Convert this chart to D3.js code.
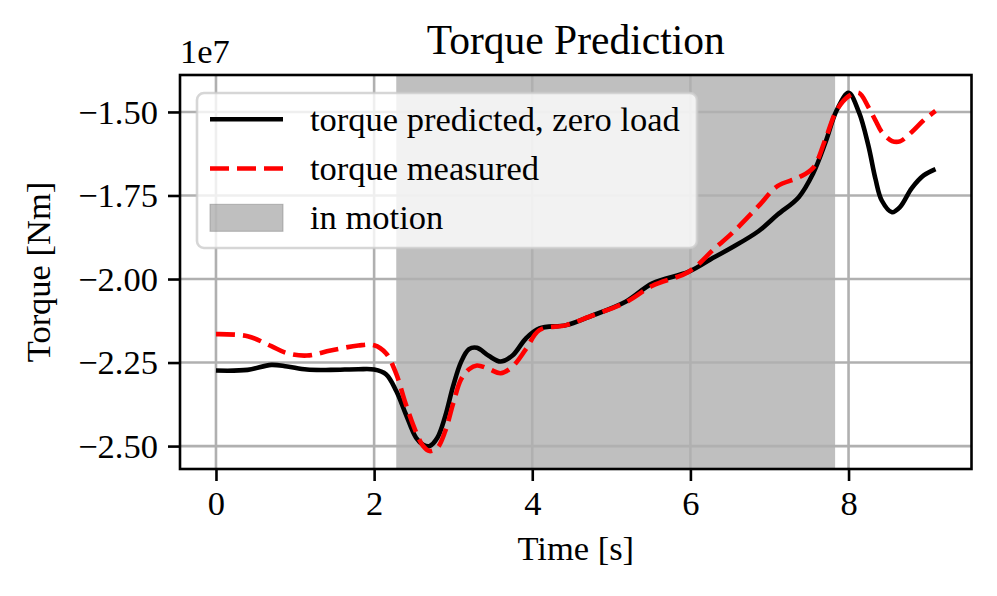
<!DOCTYPE html>
<html>
<head>
<meta charset="utf-8">
<script src="https://cdn.jsdelivr.net/npm/d3@7"></script>
<style>
  html, body { margin: 0; padding: 0; background: #fff; }
  svg { display: block; }
  text { font-family: "Liberation Serif", "Times New Roman", "DejaVu Serif", serif; fill: #000; }
</style>
</head>
<body>
<script>
// ---- data (torque values in units of 1e7 Nm) ----
const time = [0, 0.4, 0.7, 0.9, 1.15, 1.45, 1.8, 2.0, 2.15, 2.28, 2.4, 2.53, 2.62, 2.7, 2.8, 2.9, 3.0, 3.1, 3.2, 3.3, 3.45, 3.6, 3.75, 3.92, 4.09, 4.43, 4.72, 5.18, 5.52, 5.98, 6.3, 6.53, 6.86, 7.1, 7.37, 7.55, 7.71, 7.85, 8.0, 8.13, 8.25, 8.34, 8.42, 8.55, 8.65, 8.8, 8.95, 9.1];
const torquePredicted = [-2.274, -2.272, -2.257, -2.262, -2.271, -2.272, -2.270, -2.271, -2.285, -2.335, -2.404, -2.475, -2.496, -2.500, -2.475, -2.410, -2.320, -2.248, -2.210, -2.206, -2.230, -2.247, -2.229, -2.178, -2.148, -2.138, -2.113, -2.068, -2.013, -1.978, -1.935, -1.905, -1.857, -1.808, -1.755, -1.685, -1.590, -1.495, -1.443, -1.500, -1.600, -1.700, -1.765, -1.800, -1.785, -1.728, -1.690, -1.671];
const torqueMeasured = [-2.165, -2.171, -2.201, -2.222, -2.229, -2.214, -2.199, -2.198, -2.222, -2.284, -2.374, -2.458, -2.500, -2.515, -2.505, -2.455, -2.372, -2.300, -2.270, -2.259, -2.269, -2.282, -2.262, -2.210, -2.153, -2.138, -2.113, -2.070, -2.020, -1.978, -1.910, -1.862, -1.782, -1.722, -1.696, -1.668, -1.580, -1.495, -1.453, -1.443, -1.485, -1.525, -1.560, -1.587, -1.588, -1.560, -1.525, -1.497];
const motionSpan = [2.28, 7.83];
const xTicks = [0, 2, 4, 6, 8];
const yTicks = [-2.5, -2.25, -2.0, -1.75, -1.5];
const yTickLabels = ["\u22122.50", "\u22122.25", "\u22122.00", "\u22121.75", "\u22121.50"];
const legendLabels = ["torque predicted, zero load", "torque measured", "in motion"];

// ---- layout ----
const W = 997, H = 596;
const plot = { left: 180, right: 971.5, top: 75, bottom: 469 };
const FS = 34.5;

const svg = d3.select("body").append("svg").attr("width", W).attr("height", H);

const tMin = d3.min(time), tMax = d3.max(time);
const allV = torquePredicted.concat(torqueMeasured);
const vMin = d3.min(allV), vMax = d3.max(allV);
const xPad = (tMax - tMin) * 0.05, yPad = (vMax - vMin) * 0.05;

const x = d3.scaleLinear().domain([tMin - xPad, tMax + xPad]).range([plot.left, plot.right]);
const y = d3.scaleLinear().domain([vMin - yPad, vMax + yPad]).range([plot.bottom, plot.top]);

svg.append("defs").append("clipPath").attr("id", "clip")
  .append("rect").attr("x", plot.left).attr("y", plot.top)
  .attr("width", plot.right - plot.left).attr("height", plot.bottom - plot.top);

// shaded span
svg.append("rect")
  .attr("x", x(motionSpan[0])).attr("y", plot.top)
  .attr("width", x(motionSpan[1]) - x(motionSpan[0])).attr("height", plot.bottom - plot.top)
  .attr("fill", "#808080").attr("fill-opacity", 0.5);

// grid
const grid = svg.append("g").attr("stroke", "#b0b0b0").attr("stroke-width", 2.6);
grid.selectAll(".gx").data(xTicks).enter().append("line")
  .attr("x1", d => x(d)).attr("x2", d => x(d)).attr("y1", plot.top).attr("y2", plot.bottom);
grid.selectAll(".gy").data(yTicks).enter().append("line")
  .attr("y1", d => y(d)).attr("y2", d => y(d)).attr("x1", plot.left).attr("x2", plot.right);

// lines
const pts = (vals) => time.map((t, i) => [t, vals[i]]);
const line = d3.line().x(d => x(d[0])).y(d => y(d[1])).curve(d3.curveCatmullRom.alpha(0.5));
const lg = svg.append("g").attr("clip-path", "url(#clip)");
lg.append("path").attr("d", line(pts(torquePredicted)))
  .attr("fill", "none").attr("stroke", "#000").attr("stroke-width", 4.6)
  .attr("stroke-linejoin", "round");
lg.append("path").attr("d", line(pts(torqueMeasured)))
  .attr("fill", "none").attr("stroke", "#ff0000").attr("stroke-width", 4.6)
  .attr("stroke-dasharray", "19,8");

// axes
const xAxis = d3.axisBottom(x).tickValues(xTicks).tickSize(12).tickPadding(10).tickFormat(d3.format("d"));
const yAxis = d3.axisLeft(y).tickValues(yTicks).tickSize(12).tickPadding(10)
  .tickFormat((d, i) => yTickLabels[i]);

const gx = svg.append("g").attr("transform", `translate(0,${plot.bottom})`).call(xAxis);
const gy = svg.append("g").attr("transform", `translate(${plot.left},0)`).call(yAxis);
[gx, gy].forEach(g => {
  g.select(".domain").remove();
  g.selectAll(".tick line").attr("stroke", "#000").attr("stroke-width", 2.6);
  g.selectAll(".tick text").attr("font-size", FS)
    .attr("font-family", "Liberation Serif, Times New Roman, serif");
});
gx.selectAll(".tick text").attr("dy", "0.71em");
gy.selectAll(".tick text").attr("dy", "0.33em");

// spines
svg.append("rect").attr("x", plot.left).attr("y", plot.top)
  .attr("width", plot.right - plot.left).attr("height", plot.bottom - plot.top)
  .attr("fill", "none").attr("stroke", "#000").attr("stroke-width", 2.6);

// legend
const leg = svg.append("g");
leg.append("rect").attr("x", 197).attr("y", 93).attr("width", 500).attr("height", 155)
  .attr("rx", 7).attr("ry", 7)
  .attr("fill", "#fff").attr("fill-opacity", 0.8)
  .attr("stroke", "#cccccc").attr("stroke-opacity", 0.8).attr("stroke-width", 2.6);
const rowY = [119.3, 168.5, 217.8];
leg.append("line").attr("x1", 210).attr("x2", 283).attr("y1", rowY[0]).attr("y2", rowY[0])
  .attr("stroke", "#000").attr("stroke-width", 4.6);
leg.append("line").attr("x1", 210).attr("x2", 283).attr("y1", rowY[1]).attr("y2", rowY[1])
  .attr("stroke", "#ff0000").attr("stroke-width", 4.6).attr("stroke-dasharray", "19,8");
leg.append("rect").attr("x", 210).attr("y", rowY[2] - 13.5).attr("width", 73).attr("height", 27)
  .attr("fill", "#808080").attr("fill-opacity", 0.5)
  .attr("stroke", "#808080").attr("stroke-opacity", 0.5).attr("stroke-width", 1);
leg.selectAll(".lt").data(legendLabels).enter().append("text")
  .attr("x", 310).attr("y", (d, i) => rowY[i]).attr("dy", "0.33em")
  .attr("font-size", FS).text(d => d);

// titles and labels
svg.append("text").attr("x", (plot.left + plot.right) / 2).attr("y", 54)
  .attr("text-anchor", "middle").attr("font-size", 41.5).text("Torque Prediction");
svg.append("text").attr("x", (plot.left + plot.right) / 2).attr("y", 560)
  .attr("text-anchor", "middle").attr("font-size", FS).text("Time [s]");
svg.append("text")
  .attr("transform", `translate(50,${(plot.top + plot.bottom) / 2}) rotate(-90)`)
  .attr("text-anchor", "middle").attr("font-size", FS).text("Torque [Nm]");
svg.append("text").attr("x", plot.left).attr("y", 63)
  .attr("font-size", FS).text("1e7");
</script>
</body>
</html>
